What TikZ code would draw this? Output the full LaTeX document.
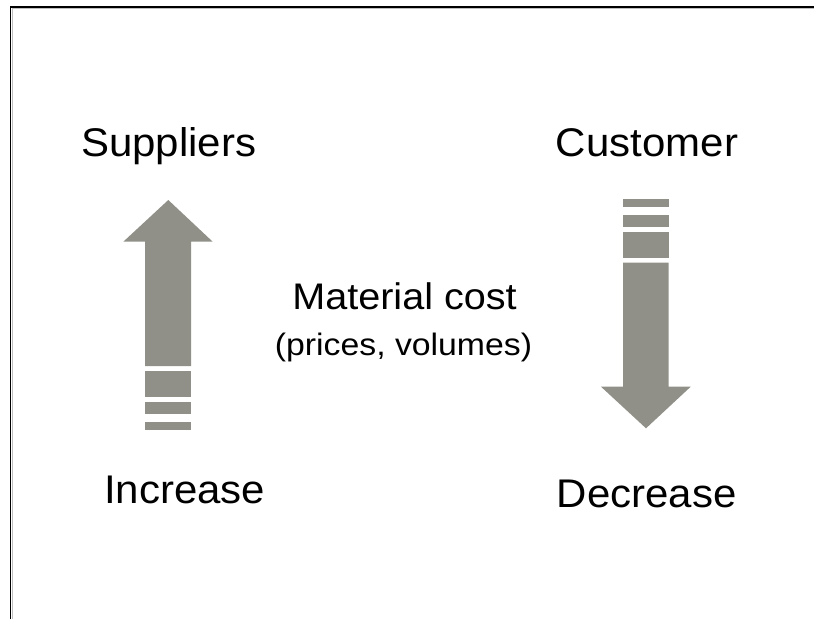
\documentclass[tikz,border=0pt]{standalone}
\usepackage{fontspec}
\setmainfont{Liberation Sans}
\definecolor{arrowgray}{RGB}{144,144,136}
\begin{document}
\begin{tikzpicture}[x=1pt,y=-1pt,
  fillgray/.style={fill=arrowgray,draw=none},
  biglabel/.style={font=\fontsize{40}{48}\selectfont,anchor=base,inner sep=0pt,xscale=1.05},
  midlabel/.style={font=\fontsize{37}{44}\selectfont,anchor=base,inner sep=0pt,xscale=1.07},
  smalllabel/.style={font=\fontsize{31}{37}\selectfont,anchor=base,inner sep=0pt,xscale=1.09}]
\useasboundingbox (0,0) rectangle (814,619);
% frame
\draw[line width=1.6pt,black] (10.3,619) -- (10.3,7) -- (814,7);
\draw[line width=0.8pt,gray!50] (12,619) -- (12,8.7) -- (814,8.7);
% up arrow
\path[fillgray] (145,366) -- (145,241.7) -- (123.3,241.7) -- (168.3,200) -- (212.7,241.7) -- (191,241.7) -- (191,366) -- cycle;
\path[fillgray] (145,371) rectangle (191,396.7);
\path[fillgray] (145,402.3) rectangle (191,414.3);
\path[fillgray] (145,422.3) rectangle (191,430);
% down arrow
\path[fillgray] (623,262.7) -- (623,386.7) -- (601,386.7) -- (646,428.3) -- (690.7,386.7) -- (668.7,386.7) -- (668.7,262.7) -- cycle;
\path[fillgray] (623,232) rectangle (668.7,257.7);
\path[fillgray] (623,215) rectangle (668.7,226.7);
\path[fillgray] (623,199) rectangle (668.7,206.7);
% labels
\node[biglabel] (sup) at (168.7,156) {Suppliers};
\node[biglabel] (cus) at (647,156) {Customer};
\node[biglabel] (inc) at (184.7,503) {Increase};
\node[biglabel] (dec) at (646.7,507) {Decrease};
\node[midlabel] (mat) at (404.5,309) {Material cost};
\node[smalllabel] (pri) at (403.5,355) {(prices, volumes)};
\end{tikzpicture}
\end{document}
